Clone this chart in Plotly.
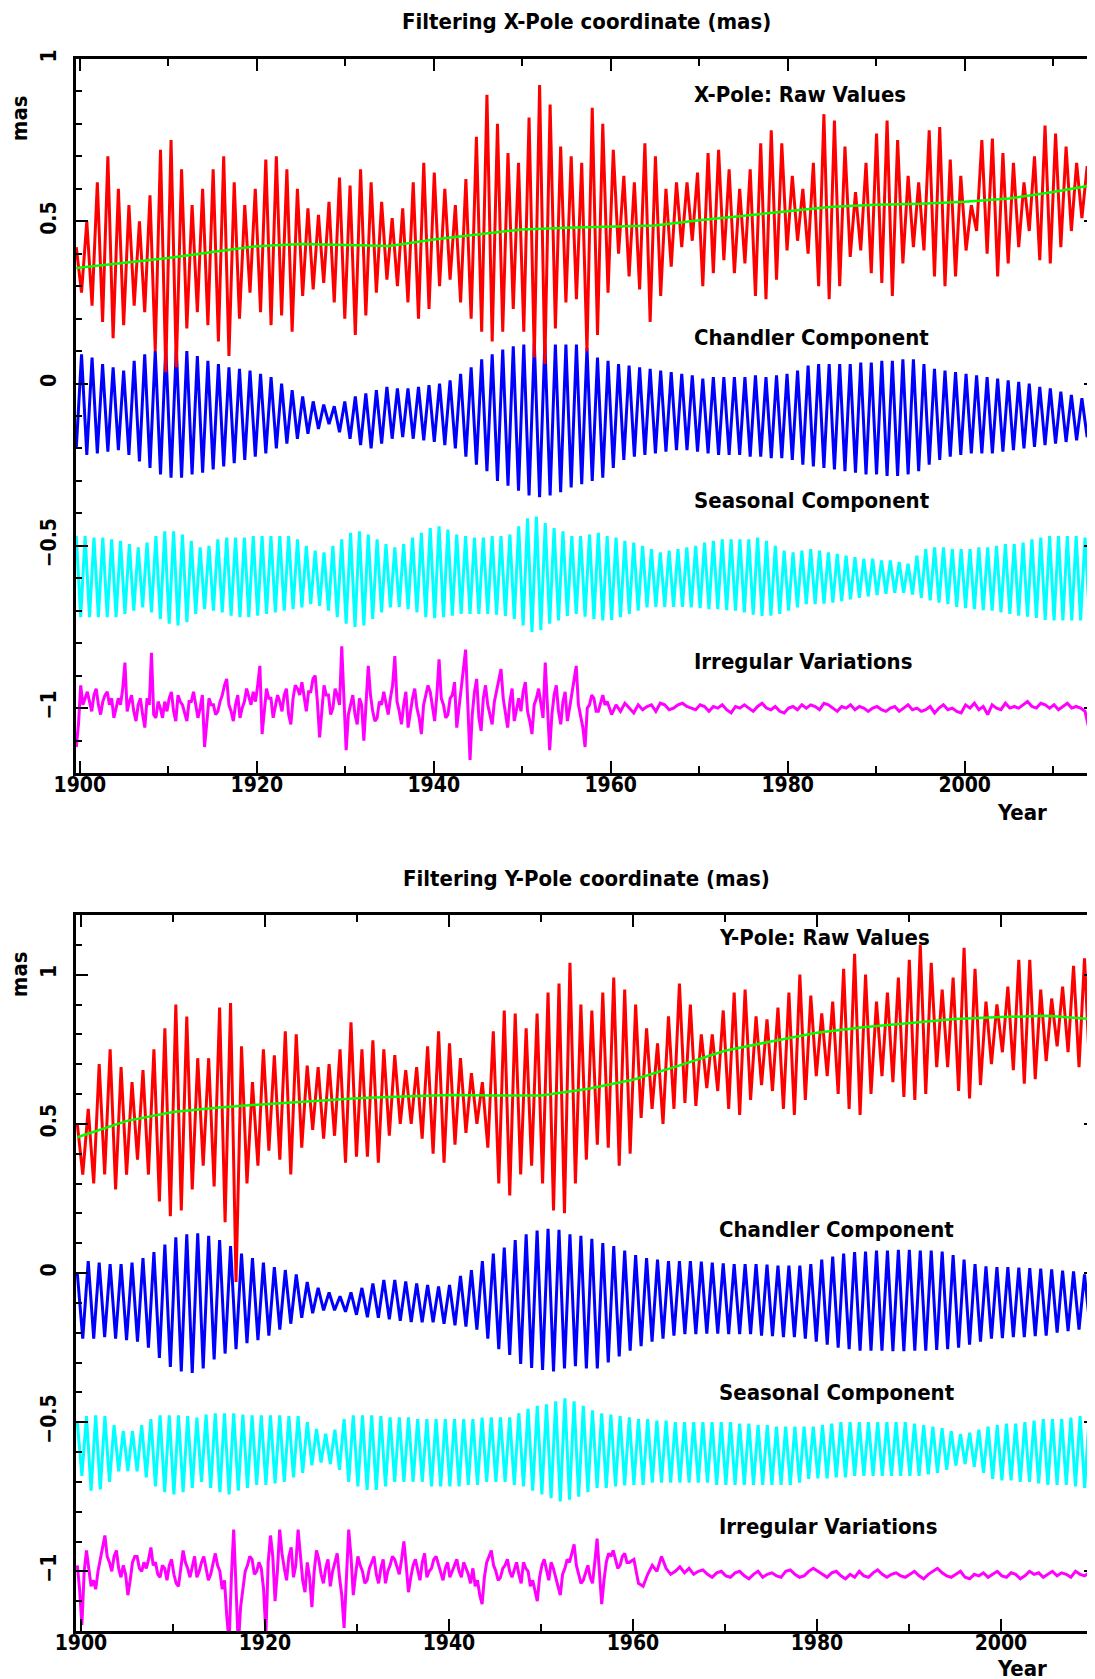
import numpy as np
import plotly.graph_objects as go

# ------------------------------------------------------------------
# Data (mas).
# Oscillating components are listed extremum by extremum on a regular
# time grid that starts at SERIES_START with the step given below.
# ------------------------------------------------------------------
SERIES_START = 1899.6
CHANDLER_STEP = 0.595    # raw & Chandler: one value per half Chandler cycle
SEASONAL_STEP = 0.5      # seasonal: one value per half year
IRREG_EARLY_STEP = 0.25  # irregular before 1959.6 (noisy part)
IRREG_LATE_START = 1959.6
IRREG_LATE_STEP = 0.5    # irregular from 1959.6 on

X_TREND_YEARS = [1899.6, 1905, 1910, 1915, 1920, 1925, 1930, 1935, 1940, 1945, 1950, 1955,
                 1960, 1965, 1970, 1975, 1980, 1985, 1990, 1995, 2000, 2005, 2010, 2014.6]
X_TREND = [.356, .372, .387, .405, .423, .43, .427, .424, .444, .46, .475, .48,
           .483, .487, .503, .518, .531, .545, .551, .554, .56, .57, .59, .612]

X_RAW = [.42, .28, .50, .24, .62, .19, .70, .14, .60, .18, .55, .24, .50, .22, .58, .10, .72, .035, .75, .05,
         .66, .17, .55, .22, .60, .18, .66, .13, .70, .085, .62, .20, .55, .28, .60, .22, .69, .18, .70, .21,
         .66, .16, .60, .27, .54, .29, .52, .31, .56, .25, .635, .20, .61, .15, .66, .21, .62, .28, .56, .32,
         .51, .30, .54, .25, .62, .20, .68, .23, .65, .30, .60, .32, .55, .25, .63, .20, .76, .16, .89, .13,
         .80, .16, .71, .23, .68, .16, .82, .08, .92, .06, .86, .17, .73, .25, .70, .26, .68, .10, .85, .15,
         .80, .28, .72, .40, .64, .33, .62, .29, .74, .19, .70, .27, .60, .36, .62, .42, .62, .44, .65, .30,
         .71, .34, .72, .38, .66, .34, .60, .37, .66, .27, .74, .26, .78, .32, .74, .41, .64, .44, .60, .40,
         .68, .30, .83, .26, .81, .30, .73, .39, .59, .41, .68, .34, .77, .31, .81, .27, .75, .37, .64, .42,
         .62, .41, .78, .33, .79, .30, .69, .33, .64, .41, .55, .47, .75, .40, .755, .33, .71, .37, .68, .42,
         .62, .47, .70, .38, .795, .37, .77, .42, .73, .47, .68, .51, .67, .55]

X_CHANDLER = [-.20, .09, -.22, .08, -.215, .06, -.21, .05, -.205, .04, -.22, .07, -.24, .09, -.26, .10, -.28, .11, -.29, .11,
              -.29, .10, -.28, .085, -.275, .07, -.265, .06, -.255, .05, -.245, .045, -.235, .04, -.225, .03, -.215, .02, -.20, .00,
              -.185, -.02, -.17, -.04, -.155, -.055, -.14, -.065, -.125, -.07, -.15, -.055, -.17, -.04, -.19, -.03, -.20, -.02, -.185, -.01,
              -.17, -.015, -.165, -.015, -.17, -.01, -.175, -.005, -.18, .00, -.19, .01, -.20, .03, -.225, .05, -.25, .075, -.27, .09,
              -.30, .105, -.315, .115, -.33, .12, -.345, .125, -.35, .125, -.345, .12, -.335, .12, -.32, .12, -.31, .11, -.30, .08,
              -.29, .07, -.26, .06, -.235, .055, -.225, .05, -.22, .045, -.215, .04, -.21, .035, -.205, .03, -.205, .025, -.21, .015,
              -.215, .02, -.22, .02, -.22, .02, -.22, .02, -.225, .025, -.225, .02, -.23, .025, -.23, .03, -.235, .04, -.25, .055,
              -.255, .06, -.26, .06, -.265, .06, -.27, .06, -.275, .065, -.28, .065, -.28, .07, -.285, .07, -.285, .075, -.28, .075,
              -.27, .06, -.25, .045, -.235, .04, -.225, .035, -.22, .03, -.215, .025, -.215, .02, -.215, .015, -.21, .01, -.205, .005,
              -.20, .00, -.195, -.01, -.19, -.015, -.185, -.025, -.18, -.035, -.175, -.045, -.165, -.11]

X_SEASONAL = [-.47, -.72, -.47, -.72, -.475, -.72, -.475, -.72, -.48, -.72, -.485, -.71, -.495, -.70, -.505, -.69, -.49, -.705, -.47, -.725,
              -.455, -.74, -.455, -.745, -.465, -.735, -.485, -.71, -.505, -.695, -.50, -.70, -.48, -.705, -.475, -.715, -.475, -.72, -.475, -.72,
              -.47, -.715, -.47, -.71, -.47, -.705, -.47, -.70, -.47, -.695, -.48, -.69, -.50, -.68, -.515, -.685, -.52, -.70, -.50, -.72,
              -.48, -.74, -.46, -.75, -.455, -.745, -.465, -.725, -.48, -.705, -.495, -.69, -.505, -.688, -.495, -.695, -.475, -.705, -.46, -.72,
              -.445, -.723, -.44, -.72, -.45, -.715, -.465, -.71, -.47, -.71, -.475, -.71, -.475, -.71, -.47, -.712, -.47, -.716, -.465, -.725,
              -.44, -.745, -.415, -.765, -.41, -.76, -.43, -.74, -.445, -.73, -.455, -.716, -.47, -.71, -.47, -.718, -.465, -.725, -.46, -.73,
              -.47, -.728, -.475, -.72, -.485, -.71, -.49, -.70, -.50, -.69, -.51, -.688, -.52, -.688, -.515, -.688, -.51, -.688, -.505, -.69,
              -.50, -.692, -.49, -.695, -.485, -.695, -.48, -.698, -.48, -.70, -.48, -.705, -.48, -.712, -.475, -.716, -.485, -.715, -.50, -.71,
              -.515, -.70, -.52, -.69, -.515, -.68, -.51, -.68, -.515, -.678, -.52, -.675, -.525, -.67, -.53, -.665, -.535, -.66, -.54, -.656,
              -.54, -.652, -.545, -.648, -.545, -.645, -.55, -.645, -.555, -.65, -.53, -.66, -.51, -.668, -.505, -.675, -.505, -.68, -.51, -.688,
              -.51, -.692, -.51, -.695, -.505, -.698, -.505, -.70, -.50, -.705, -.495, -.71, -.495, -.715, -.49, -.718, -.48, -.722, -.475, -.728,
              -.47, -.73, -.47, -.73, -.47, -.73, -.47, -.73, -.475, -.725, -.50]

X_IRREG_EARLY = [
    -1.12, -1.05, -.93, -.99, -.97, -.95, -.98, -1.01, -.96, -.94, -.99, -1.02, -.98, -.96, -.95, -.99, -.97, -1.03, -1.00, -.97,
    -.99, -.94, -.86, -1.01, -.98, -.96, -1.01, -1.04, -.99, -.97, -1.02, -1.06, -.97, -.99, -.83, -1.02, -1.03, -.98, -1.00, -1.03,
    -.98, -1.01, -.97, -.95, -1.01, -1.04, -.96, -.98, -.99, -1.02, -1.04, -.98, -.98, -.95, -.99, -1.03, -1.00, -.96, -1.12, -1.03,
    -.97, -.99, -.99, -1.02, -1.01, -.98, -.96, -.93, -.91, -.99, -1.01, -1.04, -.99, -.96, -1.03, -1.00, -.98, -.94, -.97, -.99,
    -.95, -.98, -.93, -.87, -1.08, -1.0, -.94, -.97, -.97, -1.03, -1.00, -.96, -.98, -1.01, -.96, -.94, -1.02, -1.05, -.97, -.93,
    -.94, -.96, -.92, -.97, -1.01, -.95, -.95, -.91, -.90, -.98, -1.09, -1.01, -.93, -.96, -.96, -1.02, -1.00, -.94, -.96, -.99,
    -.81, -.97, -1.13, -1.02, -.99, -.96, -1.02, -1.05, -.97, -.99, -1.10, -1.0, -.87, -.96, -1.01, -1.04, -1.03, -.98, -.99, -.95,
    -.98, -1.02, -.97, -.93, -.84, -.98, -1.01, -1.05, -.99, -.95, -1.06, -1.01, -.97, -.94, -1.00, -1.03, -1.08, -.99, -.96, -.93,
    -.95, -.99, -1.04, -.96, -.85, -.97, -.99, -1.03, -1.02, -.97, -.96, -.92, -1.06, -1.0, -.94, -.90, -.82, -.99, -1.16, -1.02,
    -.95, -.91, -1.03, -1.07, -.97, -.93, -.99, -1.02, -1.05, -.98, -.95, -.92, -.88, -.97, -1.02, -1.06, -.98, -.94, -1.04, -1.0,
    -.97, -1.01, -.95, -.92, -1.01, -1.04, -1.08, -.99, -.97, -.94, -.99, -1.03, -.86, -.98, -1.13, -1.02, -.96, -.93, -1.01, -1.05,
    -.98, -.95, -1.04, -1.0, -.96, -.92, -.87, -.99, -1.03, -1.06, -1.12, -1.0, -.99, -.96, -.97, -1.01, -1.01, -.98, -.96, -.99]

X_IRREG_LATE = [
    -.98, -1.02, -.99, -1.01, -.985, -1.00, -1.015, -.99, -1.005, -.995, -.99, -1.01, -.985, -.99, -1.005, -1.00, -.99, -.985, -.995, -1.00,
    -1.005, -.99, -.995, -1.01, -.995, -1.00, -.99, -1.005, -1.015, -.995, -1.0, -.99, -1.00, -1.01, -.995, -.985, -1.0, -1.005, -.995, -1.01,
    -1.015, -1.0, -.995, -1.005, -.99, -1.0, -.99, -.995, -1.005, -.985, -.99, -1.0, -1.01, -.995, -1.0, -.99, -1.005, -.995, -1.0, -1.01,
    -1.0, -.995, -1.005, -1.01, -1.0, -.995, -1.01, -1.0, -.99, -1.005, -1.0, -1.01, -1.005, -.995, -1.015, -1.0, -.99, -1.005, -1.0, -1.01,
    -1.015, -.99, -1.0, -.985, -1.005, -.995, -1.02, -.99, -1.0, -1.005, -.985, -1.0, -.995, -1.0, -.99, -.98, -.995, -1.0, -.985, -.99,
    -1.0, -.99, -1.005, -.995, -.985, -1.0, -.995, -1.0, -1.01, -1.07, -1.02]

Y_TREND_YEARS = [1899.6, 1905, 1910, 1915, 1920, 1925, 1930, 1935, 1940, 1945, 1950, 1955,
                 1960, 1965, 1970, 1975, 1980, 1985, 1990, 1995, 2000, 2005, 2010.5]
Y_TREND = [.455, .51, .54, .555, .566, .577, .586, .592, .597, .595, .595, .617,
           .648, .695, .745, .776, .805, .824, .838, .851, .858, .862, .85]

Y_RAW = [.50, .33, .55, .30, .70, .33, .75, .28, .69, .33, .64, .38, .68, .33, .75, .24, .82, .19, .90, .21,
         .86, .28, .72, .36, .72, .29, .89, .17, .905, -.03, .76, .30, .64, .36, .75, .41, .73, .38, .81, .33,
         .80, .42, .695, .48, .69, .45, .70, .46, .75, .37, .84, .39, .75, .39, .78, .37, .75, .46, .73, .50,
         .68, .50, .69, .45, .76, .40, .81, .37, .77, .43, .72, .47, .67, .50, .64, .42, .81, .30, .88, .26,
         .87, .33, .82, .36, .87, .30, .94, .21, .97, .20, 1.04, .30, .90, .38, .88, .43, .94, .42, .99, .36,
         .95, .40, .90, .52, .82, .55, .77, .50, .86, .55, .97, .57, .90, .56, .80, .62, .80, .61, .88, .55,
         .94, .53, .95, .58, .86, .63, .85, .61, .89, .55, .94, .53, 1.0, .58, .93, .66, .87, .66, .91, .60,
         1.02, .55, 1.07, .53, 1.0, .60, .91, .66, .94, .64, .99, .59, 1.05, .58, 1.10, .60, 1.04, .69, .95, .69,
         .99, .61, 1.09, .585, 1.02, .63, .91, .70, .90, .74, .96, .68, 1.05, .635, 1.05, .65, .95, .71, .92, .76,
         .96, .74, 1.03, .69, 1.055, .66, 1.0]

Y_CHANDLER = [.00, -.22, .04, -.22, .035, -.215, .03, -.22, .03, -.225, .035, -.23, .05, -.25, .07, -.285, .095, -.315, .12, -.33,
              .13, -.335, .133, -.32, .125, -.29, .11, -.27, .09, -.255, .065, -.235, .05, -.225, .035, -.21, .02, -.19, .01, -.17,
              -.005, -.15, -.03, -.135, -.05, -.125, -.065, -.125, -.078, -.13, -.065, -.14, -.05, -.148, -.035, -.15, -.023, -.155, -.023, -.16,
              -.028, -.164, -.035, -.165, -.04, -.165, -.045, -.17, -.04, -.175, -.01, -.18, .01, -.19, .04, -.22, .065, -.255, .085, -.275,
              .11, -.305, .13, -.318, .142, -.325, .148, -.33, .145, -.32, .13, -.312, .125, -.32, .115, -.32, .10, -.30, .09, -.28,
              .075, -.26, .06, -.245, .05, -.23, .045, -.22, .04, -.21, .04, -.205, .04, -.205, .038, -.203, .035, -.203, .032, -.205,
              .03, -.205, .03, -.205, .03, -.21, .028, -.212, .025, -.215, .025, -.215, .025, -.22, .03, -.23, .045, -.24, .055, -.25,
              .065, -.255, .07, -.26, .072, -.26, .075, -.26, .075, -.262, .078, -.262, .078, -.26, .075, -.26, .075, -.258, .072, -.255,
              .06, -.25, .045, -.24, .03, -.23, .022, -.22, .02, -.218, .02, -.215, .018, -.215, .016, -.212, .015, -.21, .012, -.20,
              .008, -.195, .005, -.19, -.005, -.18, -.03]

Y_SEASONAL = [-.50, -.68, -.48, -.73, -.477, -.725, -.48, -.70, -.51, -.665, -.53, -.664, -.53, -.665, -.51, -.685, -.49, -.715, -.477, -.735,
              -.477, -.742, -.477, -.735, -.48, -.72, -.485, -.70, -.475, -.72, -.47, -.735, -.47, -.742, -.47, -.73, -.475, -.72, -.477, -.71,
              -.477, -.71, -.477, -.705, -.477, -.70, -.48, -.685, -.48, -.67, -.50, -.645, -.523, -.635, -.539, -.64, -.525, -.66, -.49, -.70,
              -.477, -.715, -.477, -.727, -.477, -.727, -.48, -.715, -.484, -.70, -.484, -.70, -.484, -.70, -.49, -.70, -.49, -.715, -.49, -.715,
              -.49, -.715, -.49, -.715, -.49, -.71, -.49, -.71, -.485, -.70, -.484, -.70, -.484, -.70, -.484, -.71, -.47, -.715, -.455, -.73,
              -.445, -.742, -.44, -.755, -.43, -.766, -.42, -.76, -.43, -.75, -.445, -.735, -.46, -.72, -.47, -.72, -.475, -.715, -.48, -.712,
              -.484, -.71, -.49, -.71, -.49, -.703, -.495, -.703, -.495, -.703, -.50, -.703, -.50, -.703, -.50, -.703, -.50, -.703, -.50, -.71,
              -.50, -.71, -.50, -.71, -.505, -.71, -.505, -.71, -.51, -.71, -.51, -.71, -.515, -.71, -.515, -.71, -.515, -.703, -.515, -.69,
              -.515, -.688, -.51, -.688, -.505, -.685, -.50, -.685, -.50, -.68, -.50, -.68, -.50, -.68, -.50, -.68, -.50, -.68, -.50, -.68,
              -.50, -.68, -.505, -.68, -.51, -.675, -.515, -.67, -.52, -.66, -.53, -.645, -.54, -.64, -.535, -.65, -.525, -.67, -.515, -.69,
              -.51, -.695, -.505, -.695, -.505, -.70, -.50, -.70, -.495, -.705, -.49, -.71, -.49, -.71, -.49, -.71, -.485, -.715, -.48, -.72,
              -.477, -.727, -.477]

Y_IRREG_EARLY = [
    -.98, -1.06, -1.18, -1.0, -.93, -.99, -1.05, -1.03, -1.06, -1.0, -.96, -.93, -.88, -.95, -.97, -1.0, -.95, -.93, -.99, -1.02,
    -.98, -1.01, -1.08, -1.03, -.97, -.95, -.95, -.99, -1.0, -.97, -.99, -.96, -.92, -.98, -.97, -1.01, -1.02, -.98, -.99, -1.03,
    -.98, -.96, -1.01, -1.04, -1.05, -.99, -.93, -.97, -.99, -1.02, -.98, -.95, -1.02, -1.0, -.97, -.95, -.99, -1.03, -1.01, -.97,
    -.94, -.98, -1.0, -1.06, -1.03, -1.15, -1.24, -1.02, -.86, -1.05, -1.25, -1.12, -1.05, -1.0, -.98, -.95, -.96, -1.01, -1.0, -.97,
    -.99, -1.06, -1.21, -.97, -.88, -.95, -1.1, -1.0, -.86, -.94, -.99, -1.03, -.95, -.92, -1.02, -.98, -.86, -.95, -1.03, -1.07,
    -.97, -1.02, -1.12, -1.0, -.93, -.96, -1.01, -1.04, -.99, -.96, -1.05, -1.0, -.97, -.94, -1.02, -1.08, -1.19, -1.0, -.86, -.95,
    -1.08, -1.01, -.95, -.98, -1.0, -1.04, -1.03, -.99, -.97, -.95, -1.01, -1.04, -.99, -.96, -1.04, -1.0, -.98, -.95, -.96, -.99,
    -1.01, -.96, -.9, -.98, -1.07, -1.02, -.98, -.96, -1.0, -1.03, -.97, -.94, -1.02, -1.0, -.99, -.96, -.95, -.98, -1.0, -1.03,
    -.99, -.97, -1.02, -1.0, -.98, -.96, -1.0, -1.02, -.97, -.99, -1.01, -1.04, -.99, -1.05, -1.03, -1.08, -1.11, -1.02, -.97, -.95,
    -.93, -.98, -1.0, -1.03, -1.02, -.99, -.98, -.96, -1.0, -1.02, -.99, -.97, -1.01, -1.04, -.97, -.99, -1.0, -1.05, -1.03, -1.07,
    -1.1, -1.02, -.98, -.96, -1.0, -1.03, -.97, -.99, -1.02, -1.05, -1.08, -1.01, -.99, -.96, -.97, -.94, -.91, -.98, -1.01, -1.04,
    -1.03, -1.0, -.98, -1.02, -1.04, -.97, -.89, -1.0, -1.11, -1.03, -.97, -.94, -.95, -.93, -.96, -.99, -.98, -.95, -.94, -.97]

Y_IRREG_LATE = [
    -.97, -.96, -1.04, -1.05, -1.01, -.98, -1.0, -.95, -.99, -1.01, -1.0, -.985, -1.005, -.99, -1.01, -1.0, -.995, -1.01, -1.02, -1.005,
    -1.0, -1.015, -1.02, -1.005, -1.0, -1.015, -1.025, -1.01, -1.0, -1.02, -1.01, -1.005, -1.015, -1.02, -1.0, -.995, -1.01, -1.02, -1.015, -1.0,
    -.99, -1.0, -1.01, -1.02, -1.005, -1.0, -1.015, -1.025, -1.01, -1.02, -1.0, -1.015, -1.02, -1.005, -.995, -1.01, -1.02, -1.01, -1.005, -1.015,
    -1.02, -1.01, -1.0, -1.015, -1.025, -1.01, -1.0, -.99, -1.005, -1.015, -1.02, -1.01, -1.0, -1.02, -1.025, -1.01, -1.015, -1.005, -1.02, -1.01,
    -1.0, -1.015, -1.02, -1.005, -1.01, -1.025, -1.015, -1.0, -1.01, -1.005, -1.02, -1.01, -1.0, -1.015, -1.005, -1.01, -1.02, -1.0, -1.01, -1.015,
    -1.005, -1.0, -1.01]

TITLES = ["Filtering X-Pole coordinate (mas)", "Filtering Y-Pole coordinate (mas)"]
LABELS_X = ["X-Pole: Raw Values", "Chandler Component", "Seasonal Component", "Irregular Variations"]
LABELS_Y = ["Y-Pole: Raw Values", "Chandler Component", "Seasonal Component", "Irregular Variations"]

# ------------------------------------------------------------------
FONT = "DejaVu Sans Condensed, DejaVu Sans, sans-serif"
W, H = 1095, 1679
ML, MR, MT, MB = 68, 4, 51, 56
PW, PH = W - ML - MR, H - MT - MB


def px_x(x):
    return (x - ML) / PW


def px_y(y):
    return (H - MB - y) / PH


def grid(n, step, start=SERIES_START):
    return start + step * np.arange(n)


fig = go.Figure()


def add(x, y, color, width, xa, ya):
    fig.add_trace(go.Scatter(x=x, y=y, mode="lines", line=dict(color=color, width=width),
                             xaxis=xa, yaxis=ya, showlegend=False, hoverinfo="skip"))


for xa, ya, raw, trend_x, trend, ch, se, ir_e, ir_l in [
        ("x", "y", X_RAW, X_TREND_YEARS, X_TREND, X_CHANDLER, X_SEASONAL, X_IRREG_EARLY, X_IRREG_LATE),
        ("x2", "y2", Y_RAW, Y_TREND_YEARS, Y_TREND, Y_CHANDLER, Y_SEASONAL, Y_IRREG_EARLY, Y_IRREG_LATE)]:
    add(grid(len(se), SEASONAL_STEP), se, "#00ffff", 3, xa, ya)
    ir_t = np.concatenate([grid(len(ir_e), IRREG_EARLY_STEP),
                           grid(len(ir_l), IRREG_LATE_STEP, IRREG_LATE_START)])
    add(ir_t, list(ir_e) + list(ir_l), "#ff00ff", 3, xa, ya)
    add(grid(len(ch), CHANDLER_STEP), ch, "#0000ff", 3, xa, ya)
    add(grid(len(raw), CHANDLER_STEP), raw, "#ff0000", 3, xa, ya)
    add(trend_x, trend, "#00ff00", 2.5, xa, ya)

TICKFONT = dict(family=FONT, size=21, color="black", weight="bold")
common = dict(showline=True, linecolor="black", linewidth=3, mirror="allticks",
              ticks="inside", tickcolor="black", tickwidth=2, showgrid=False,
              zeroline=False, tickfont=TICKFONT, fixedrange=True)

top_dom = [px_y(765), 1.0]
bot_dom = [0.0, px_y(907)]

xcommon = dict(common, tick0=1900, dtick=20, ticklen=12, ticklabelstandoff=-9,
               minor=dict(tick0=1900, dtick=10, ticklen=7, tickwidth=2, tickcolor="black",
                          ticks="inside", showgrid=False))
ycommon = dict(common, tick0=0, dtick=0.5, ticklen=12, tickangle=-90, ticklabelstandoff=9,
               minor=dict(tick0=0, dtick=0.1, ticklen=6, tickwidth=2, tickcolor="black",
                          ticks="inside", showgrid=False))

fig.update_layout(
    width=W, height=H,
    margin=dict(l=ML, r=MR, t=MT, b=MB),
    paper_bgcolor="white", plot_bgcolor="white",
    xaxis=dict(xcommon, domain=[0, 1], anchor="y", range=[1899.57, 2014.84]),
    yaxis=dict(ycommon, domain=top_dom, anchor="x", range=[-1.2, 1.0]),
    xaxis2=dict(xcommon, domain=[0, 1], anchor="y2", range=[1899.46, 2010.33]),
    yaxis2=dict(ycommon, domain=bot_dom, anchor="x2", range=[-1.2, 1.2]),
)

ANN_FONT = dict(family=FONT, size=22, color="black", weight="bold")
anns = []
# titles
anns.append(dict(text=TITLES[0], x=px_x(580), y=px_y(13)))
anns.append(dict(text=TITLES[1], x=px_x(580), y=px_y(870)))
# axis labels
anns.append(dict(text="mas", x=px_x(12), y=px_y(110), textangle=-90))
anns.append(dict(text="mas", x=px_x(12), y=px_y(966), textangle=-90))
anns.append(dict(text="Year", x=px_x(1017), y=px_y(804)))
anns.append(dict(text="Year", x=px_x(1017), y=px_y(1661)))
for a in anns:
    a.update(xref="paper", yref="paper", showarrow=False, xanchor="center",
             yanchor="middle", font=ANN_FONT)

for lab, yy in zip(LABELS_X, [86, 329, 492, 654]):
    anns.append(dict(text=lab, x=px_x(686), y=px_y(yy), xref="paper", yref="paper",
                     showarrow=False, xanchor="left", yanchor="middle", font=ANN_FONT))
for lab, yy in zip(LABELS_Y, [929, 1221, 1384, 1518]):
    anns.append(dict(text=lab, x=px_x(711), y=px_y(yy), xref="paper", yref="paper",
                     showarrow=False, xanchor="left", yanchor="middle", font=ANN_FONT))

fig.update_layout(annotations=anns)

fig.write_html("out.html")
